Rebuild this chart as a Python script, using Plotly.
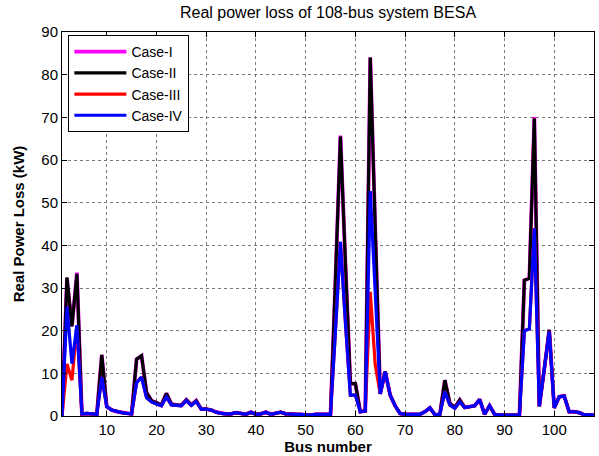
import plotly.graph_objects as go

bus = list(range(1, 109))

case2 = [0, 32.5, 21.0, 33.3, 0.5, 0.6, 0.5, 0.4, 14.3, 2.2,
         1.4, 1.0, 0.8, 0.6, 0.5, 13.3, 14.1, 5.5, 3.6, 3.1,
         2.6, 5.3, 2.8, 2.6, 2.5, 3.8, 2.6, 3.6, 1.6, 1.6,
         1.4, 0.9, 0.6, 0.5, 0.5, 0.8, 0.6, 0.4, 0.9, 0.4,
         0.5, 0.9, 0.4, 0.6, 0.9, 0.5, 0.4, 0.4, 0.4, 0.3,
         0.2, 0.4, 0.4, 0.4, 0.4, 32.0, 65.5, 36.0, 7.6, 7.6,
         1.0, 1.2, 84.0, 44.0, 5.2, 10.4, 4.9, 2.4, 0.6, 0.4,
         0.4, 0.4, 0.4, 1.0, 1.9, 0.3, 0.4, 8.4, 3.0, 2.0,
         3.75, 2.0, 2.2, 2.4, 3.9, 0.4, 2.4, 0.4, 0.2, 0.2,
         0.2, 0.2, 0.2, 31.8, 32.3, 69.8, 2.3, 11.0, 20.2, 1.9,
         4.5, 4.7, 1.0, 1.0, 0.8, 0.3, 0.2, 0.2]

case1 = [0, 32.2, 21.0, 33.6, 0.5, 0.6, 0.5, 0.4, 14.3, 2.2,
         1.4, 1.0, 0.8, 0.6, 0.5, 13.3, 14.1, 5.5, 3.6, 3.1,
         2.6, 5.3, 2.8, 2.6, 2.5, 3.8, 2.6, 3.6, 1.6, 1.6,
         1.4, 0.9, 0.6, 0.5, 0.5, 0.8, 0.6, 0.4, 0.9, 0.4,
         0.5, 0.9, 0.4, 0.6, 0.9, 0.5, 0.4, 0.4, 0.4, 0.3,
         0.2, 0.4, 0.4, 0.4, 0.4, 32.0, 65.7, 36.0, 7.6, 7.6,
         1.0, 1.2, 84.0, 44.0, 5.2, 10.4, 4.9, 2.4, 0.6, 0.4,
         0.4, 0.4, 0.4, 1.0, 1.9, 0.3, 0.4, 8.4, 3.0, 2.0,
         3.75, 2.0, 2.2, 2.4, 3.9, 0.4, 2.4, 0.4, 0.2, 0.2,
         0.2, 0.2, 0.2, 31.8, 32.3, 70.1, 2.3, 11.0, 20.2, 1.9,
         4.5, 4.7, 1.0, 1.0, 0.8, 0.3, 0.2, 0.2]

case4 = [0, 25.6, 12.3, 21.3, 0.5, 0.6, 0.5, 0.4, 9.1, 2.2,
         1.4, 1.0, 0.8, 0.6, 0.5, 7.8, 9.1, 4.3, 3.3, 2.8,
         2.4, 4.5, 2.6, 2.5, 2.4, 3.6, 2.5, 3.4, 1.6, 1.6,
         1.4, 0.9, 0.6, 0.5, 0.5, 0.8, 0.6, 0.4, 0.9, 0.4,
         0.5, 0.9, 0.4, 0.6, 0.9, 0.5, 0.4, 0.4, 0.4, 0.3,
         0.2, 0.4, 0.4, 0.4, 0.4, 20.0, 40.8, 22.0, 4.9, 4.9,
         1.0, 1.2, 52.7, 29.0, 5.2, 10.4, 4.9, 2.4, 0.6, 0.4,
         0.4, 0.4, 0.4, 1.0, 1.9, 0.3, 0.4, 5.7, 2.6, 1.8,
         3.3, 2.0, 2.2, 2.4, 3.8, 0.4, 2.4, 0.4, 0.2, 0.2,
         0.2, 0.2, 0.2, 20.0, 20.4, 44.0, 2.3, 11.0, 19.8, 1.9,
         4.5, 4.7, 1.0, 1.0, 0.8, 0.3, 0.2, 0.2]

case3 = [0, 12.2, 8.4, 21.0, 0.5, 0.6, 0.5, 0.4, 9.1, 2.2,
         1.4, 1.0, 0.8, 0.6, 0.5, 7.8, 9.1, 4.3, 3.3, 2.8,
         2.4, 4.5, 2.6, 2.5, 2.4, 3.6, 2.5, 3.4, 1.6, 1.6,
         1.4, 0.9, 0.6, 0.5, 0.5, 0.8, 0.6, 0.4, 0.9, 0.4,
         0.5, 0.9, 0.4, 0.6, 0.9, 0.5, 0.4, 0.4, 0.4, 0.3,
         0.2, 0.4, 0.4, 0.4, 0.4, 20.0, 40.8, 22.0, 4.9, 4.9,
         1.0, 1.2, 29.1, 12.0, 5.2, 10.4, 4.9, 2.4, 0.6, 0.4,
         0.4, 0.4, 0.4, 1.0, 1.9, 0.3, 0.4, 5.7, 2.6, 1.8,
         3.3, 2.0, 2.2, 2.4, 3.8, 0.4, 2.4, 0.4, 0.2, 0.2,
         0.2, 0.2, 0.2, 20.0, 20.4, 44.0, 2.3, 11.0, 19.8, 1.9,
         4.5, 4.7, 1.0, 1.0, 0.8, 0.3, 0.2, 0.2]

series = [("Case-I", case1, "#ff00ff", 3.8),
          ("Case-II", case2, "#000000", 3.2),
          ("Case-III", case3, "#ff0000", 3.2),
          ("Case-IV", case4, "#0000ff", 3.2)]

x_ticks = [10, 20, 30, 40, 50, 60, 70, 80, 90, 100]
y_ticks = [0, 10, 20, 30, 40, 50, 60, 70, 80, 90]

FONT = "Liberation Sans, Arial, sans-serif"

fig = go.Figure()
for name, vals, col, w in series:
    fig.add_trace(go.Scatter(x=bus, y=vals, mode="lines", name=name,
                             line=dict(color=col, width=w)))

axis_common = dict(showline=True, linecolor="black", linewidth=1, mirror="ticks",
                   ticks="inside", ticklen=5, tickcolor="black",
                   showgrid=True, gridcolor="#7a7a7a", gridwidth=1, griddash="dot",
                   zeroline=False, tickfont=dict(family=FONT, size=15, color="black"))

fig.update_layout(
    width=599, height=456,
    margin=dict(l=62, r=5, t=32, b=40),
    paper_bgcolor="white", plot_bgcolor="white",
    font=dict(family=FONT, color="black"),
    title=dict(text="Real power loss of 108-bus system BESA", x=0.5, xref="paper",
               y=1 - 12 / 456, yref="container", yanchor="middle",
               font=dict(family=FONT, size=16, color="black")),
    xaxis=dict(range=[1, 108], tickvals=x_ticks, **axis_common,
               title=dict(text="<b>Bus number</b>", font=dict(family=FONT, size=15), standoff=0)),
    yaxis=dict(range=[0, 90], tickvals=y_ticks, **axis_common,
               title=dict(text="<b>Real Power Loss (kW)</b>", font=dict(family=FONT, size=15), standoff=13)),
    legend=dict(x=0.012, y=0.992, xanchor="left", yanchor="top",
                bgcolor="white", bordercolor="black", borderwidth=1,
                font=dict(family=FONT, size=14, color="black"),
                itemwidth=52, tracegroupgap=0),
    showlegend=True,
)

fig.write_html("out.html")
